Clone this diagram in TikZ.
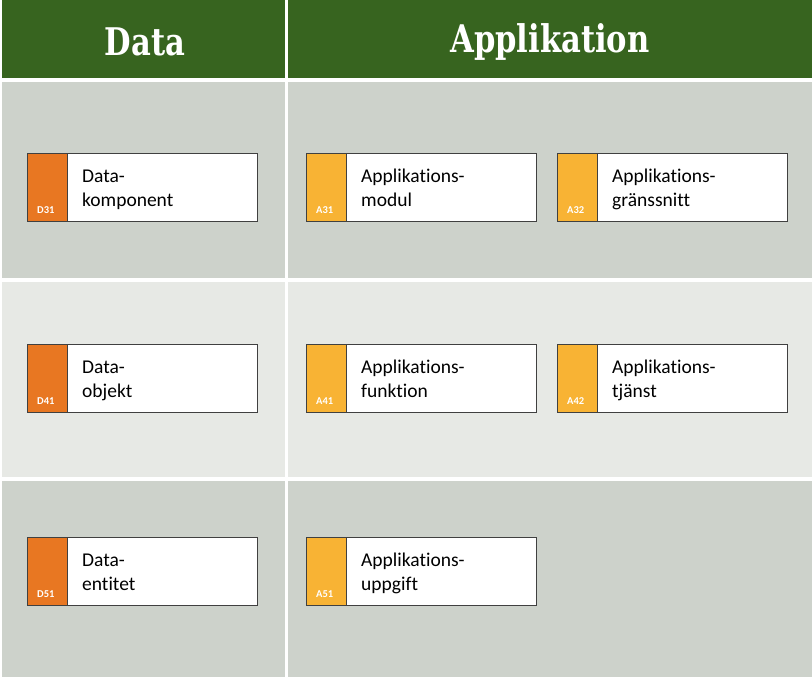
\documentclass[tikz,border=0pt]{standalone}
\usepackage{fontspec}
\setmainfont{Carlito}[Ligatures=NoCommon]
\newfontfamily\headfont{DejaVu Serif Condensed}
\definecolor{hdr}{HTML}{37641F}
\definecolor{rowA}{HTML}{CDD2CB}
\definecolor{rowB}{HTML}{E7E9E5}
\definecolor{dorange}{HTML}{E87722}
\definecolor{ayellow}{HTML}{F8B334}
\definecolor{bord}{HTML}{404040}
\begin{document}
\begin{tikzpicture}[x=1pt,y=-1pt,
  hdrtext/.style={text=white,font=\headfont\bfseries\fontsize{34}{38}\selectfont},
  elem/.style={draw=bord,line width=0.8pt,fill=white,minimum width=230pt,minimum height=68pt,inner sep=0pt},
  tag/.style={draw=bord,line width=0.8pt,fill=#1,minimum width=40pt,minimum height=68pt,inner sep=0pt},
  elemtext/.style={font=\fontsize{19.5}{23}\selectfont,align=left,anchor=base west,inner sep=0pt,text=black},
  codetext/.style={font=\bfseries\fontsize{10.5}{12}\selectfont,text=white,anchor=base west,inner sep=0pt}
]
\useasboundingbox (0,0) rectangle (812,677);
\fill[white] (0,0) rectangle (812,677);
% header
\fill[hdr] (2,0) rectangle (285,78);
\fill[hdr] (288,0) rectangle (812,78);
\node[hdrtext] (hData) at (145,42) {\scalebox{1}[1.12]{Data}};
\node[hdrtext] (hApp) at (550,42) {\scalebox{1}[1.12]{Applikation}};
% rows
\fill[rowA] (2,82) rectangle (285,278);
\fill[rowA] (288,82) rectangle (812,278);
\fill[rowB] (2,282) rectangle (285,477);
\fill[rowB] (288,282) rectangle (812,477);
\fill[rowA] (2,481) rectangle (285,677);
\fill[rowA] (288,481) rectangle (812,677);
% element macro
\newcommand{\elembox}[7]{% name, x, y, color, code, line1, line2
  \node[elem,anchor=north west] (#1) at (#2,#3) {};
  \node[tag=#4,anchor=north west] (#1t) at (#2,#3) {};
  \node[codetext] (#1c) at ([xshift=10pt,yshift=8pt]#1t.south west) {#5};
  \node[elemtext] (#1a) at ([xshift=55pt,yshift=-29.5pt]#1.north west) {#6};
  \node[elemtext] (#1b) at ([xshift=55pt,yshift=-53pt]#1.north west) {#7};
}
\elembox{d31}{27}{153}{dorange}{D31}{Data-}{komponent}
\elembox{a31}{306}{153}{ayellow}{A31}{Applikations-}{modul}
\elembox{a32}{557}{153}{ayellow}{A32}{Applikations-}{gränssnitt}
\elembox{d41}{27}{344}{dorange}{D41}{Data-}{objekt}
\elembox{a41}{306}{344}{ayellow}{A41}{Applikations-}{funktion}
\elembox{a42}{557}{344}{ayellow}{A42}{Applikations-}{tjänst}
\elembox{d51}{27}{537}{dorange}{D51}{Data-}{entitet}
\elembox{a51}{306}{537}{ayellow}{A51}{Applikations-}{uppgift}
\end{tikzpicture}
\end{document}
